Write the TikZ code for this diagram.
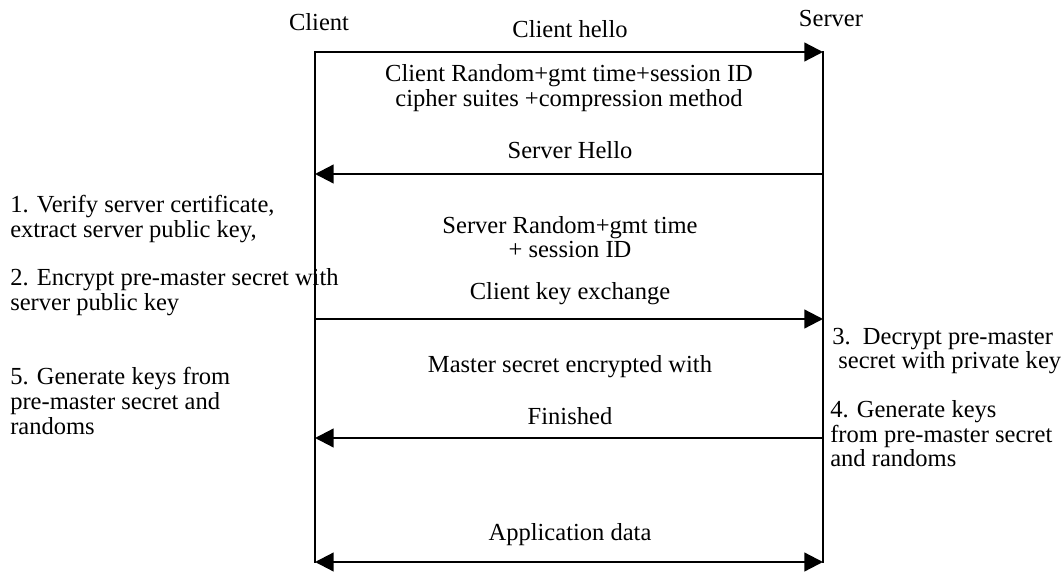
\documentclass[tikz,border=0pt]{standalone}
\usepackage{fontspec}
\setmainfont{Liberation Serif}
\usepackage{tikz}
\usetikzlibrary{arrows.meta}

\tikzset{
  life/.style={line width=1.7pt,line cap=rect},
  msg/.style={line width=1.7pt,-{Triangle[length=14pt,width=14pt]}},
  twoway/.style={line width=1.7pt,{Triangle[length=14pt,width=14pt]}-{Triangle[length=14pt,width=14pt]}},
  lbl/.style={inner sep=0pt,font=\fontsize{18.4}{18.4}\selectfont},
  note/.style={lbl,align=left,anchor=west},
}

\begin{document}
\begin{tikzpicture}[x=0.75pt,y=-0.75pt]
\useasboundingbox (0,0) rectangle (1064,574);

% ends of the two lifelines and the message levels
\coordinate (c0) at (315,52);  \coordinate (s0) at (823,52);
\coordinate (c1) at (315,174); \coordinate (s1) at (823,174);
\coordinate (c2) at (315,319); \coordinate (s2) at (823,319);
\coordinate (c3) at (315,438); \coordinate (s3) at (823,438);
\coordinate (c4) at (315,562); \coordinate (s4) at (823,562);

\draw[life] (c0) -- (c4);
\draw[life] (s0) -- (s4);

\draw[msg] (c0) -- (s0);
\draw[msg] (s1) -- (c1);
\draw[msg] (c2) -- (s2);
\draw[msg] (s3) -- (c3);
\draw[twoway] (c4) -- (s4);

\node[lbl] (client) at (319,22) {Client};
\node[lbl] (server) at (831,19) {Server};

\node[lbl] (chello) at (570,29) {Client hello};
\node[lbl,align=center] (crand) at (569,88) {Client Random+gmt time+session ID\\cipher suites +compression method};
\node[lbl] (shello) at (570,150) {Server Hello};
\node[lbl,align=center] (srand) at (570,237) {Server Random+gmt time\\+ session ID};
\node[lbl] (ckex) at (570,294) {Client key exchange};
\node[lbl] (master) at (570,367) {Master secret encrypted with};
\node[lbl] (fin) at (570,416) {Finished};
\node[lbl] (appdata) at (570,535) {Application data};

\node[note] (step1) at (10,219) {1. Verify server certificate,\\extract server public key,};
\node[note] (step2) at (10,292) {2. Encrypt pre-master secret with\\server public key};
\node[note] (step5) at (10,401) {5. Generate keys from\\pre-master secret and\\randoms};
\node[note] (step3) at (832,351) {3.\ \ Decrypt pre-master\\\ secret with private key};
\node[note] (step4) at (830,434) {4. Generate keys\\from pre-master secret\\and randoms};
\end{tikzpicture}
\end{document}
